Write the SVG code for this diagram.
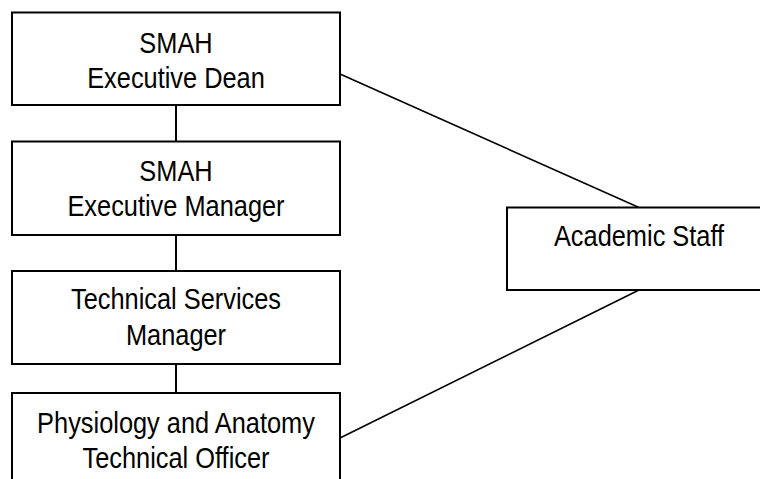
<svg xmlns="http://www.w3.org/2000/svg" width="760" height="479" viewBox="0 0 760 479">
<style>
.box{fill:#fff;stroke:#000;stroke-width:2}
.ln{stroke:#000;stroke-width:1.6;fill:none}
.t{font-family:"Liberation Sans",Arial,sans-serif;font-size:29px;fill:#000;text-anchor:middle}
</style>
<rect width="760" height="479" fill="#fff"/>
<g id="connectors">
<line class="ln" x1="176" y1="105" x2="176" y2="141.5" style="stroke-width:2"/>
<line class="ln" x1="176" y1="235" x2="176" y2="271" style="stroke-width:2"/>
<line class="ln" x1="176" y1="364" x2="176" y2="393" style="stroke-width:2"/>
<line class="ln" x1="340" y1="74" x2="639" y2="207.5"/>
<line class="ln" x1="639" y1="290" x2="340" y2="438"/>
</g>
<g id="dean">
<rect class="box" x="12" y="12.5" width="328" height="92.5"/>
<g transform="translate(176,0) scale(0.875,1)"><text class="t" x="0" y="53">SMAH</text><text class="t" x="0" y="88">Executive Dean</text></g>
</g>
<g id="manager">
<rect class="box" x="12" y="141.5" width="328" height="93.5"/>
<g transform="translate(176,0) scale(0.875,1)"><text class="t" x="0" y="181">SMAH</text><text class="t" x="0" y="216.5">Executive Manager</text></g>
</g>
<g id="tsm">
<rect class="box" x="12" y="271" width="328" height="93"/>
<g transform="translate(176,0) scale(0.875,1)"><text class="t" x="0" y="309">Technical Services</text><text class="t" x="0" y="345">Manager</text></g>
</g>
<g id="officer">
<rect class="box" x="12" y="393" width="328" height="100"/>
<g transform="translate(176,0) scale(0.875,1)"><text class="t" x="0" y="433">Physiology and Anatomy</text><text class="t" x="0" y="468">Technical Officer</text></g>
</g>
<g id="academic">
<rect class="box" x="507" y="207.5" width="270" height="82.5"/>
<g transform="translate(639,0) scale(0.875,1)"><text class="t" x="0" y="246.5">Academic Staff</text></g>
</g>
</svg>
